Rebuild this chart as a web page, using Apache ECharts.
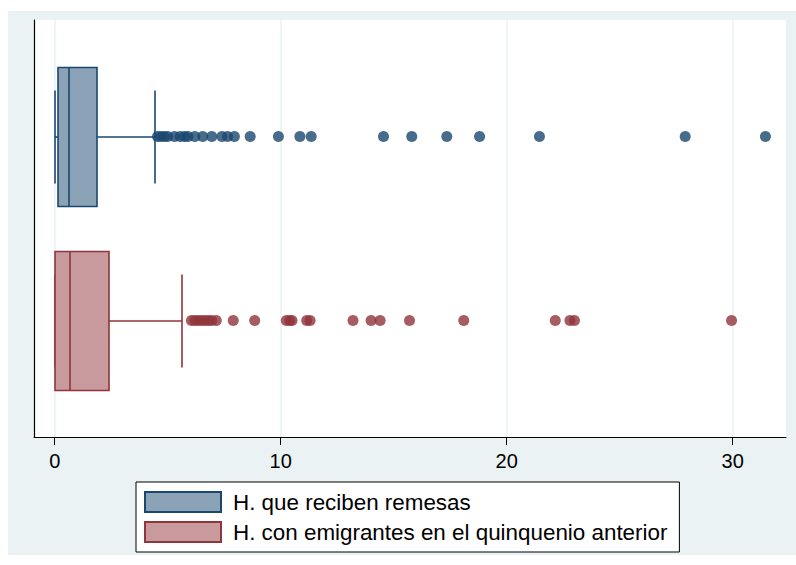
<!DOCTYPE html>
<html>
<head>
<meta charset="utf-8">
<script src="https://cdn.jsdelivr.net/npm/echarts@6/dist/echarts.min.js"></script>
<style>
  html, body { margin: 0; padding: 0; background: #ffffff; }
  #bg { position: absolute; left: 8px; top: 11px; width: 788px; height: 544px; background: #eaf2f3; }
  #chart { position: absolute; left: 0; top: 0; width: 796px; height: 565px; }
</style>
</head>
<body>
<div id="bg"></div>
<div id="chart"></div>
<script>
// ---- data ----
const categories = ['H. que reciben remesas', 'H. con emigrantes en el quinquenio anterior'];
// [lower whisker, Q1, median, Q3, upper whisker]
const remesasStats = [0, 0.13, 0.63, 1.885, 4.44];
const emigrantesStats = [0, 0, 0.69, 2.39, 5.62];
const remesasOutliers = [4.55, 4.7, 4.85, 5.0, 5.3, 5.55, 5.75, 5.9, 6.2, 6.55, 6.95, 7.4, 7.65, 7.95,
  8.65, 9.9, 10.85, 11.35, 14.55, 15.8, 17.35, 18.8, 21.45, 27.9, 31.45];
const emigrantesOutliers = [6.05, 6.2, 6.35, 6.5, 6.65, 6.8, 6.95, 7.15, 7.9, 8.85, 10.25, 10.4, 10.5,
  11.15, 11.3, 13.2, 14.0, 14.4, 15.7, 18.1, 22.15, 22.8, 23.0, 29.95];
const xTicks = [0, 10, 20, 30];

// ---- styles ----
const navy = '#1a476f', navyFill = '#8ca3b7';
const maroon = '#90353b', maroonFill = '#c89a9d';
const FONT = '"Liberation Sans", Arial, sans-serif';
const X_MIN = -0.916, X_MAX = 32.36;

function boxRender(stroke, fill) {
  return function (params, api) {
    const c = api.value(0);
    const px = v => Math.round(api.coord([v, c])[0]);
    const xLW = px(api.value(1)), xQ1 = px(api.value(2)), xMD = px(api.value(3));
    const xQ3 = px(api.value(4)), xUW = px(api.value(5));
    const y = Math.round(api.coord([api.value(2), c])[1]);
    const hb = 69.5, hc = 46.5;
    const ls = { stroke: stroke, lineWidth: 1.6, fill: null };
    return {
      type: 'group',
      children: [
        { type: 'line', shape: { x1: xLW, y1: y, x2: xQ1, y2: y }, style: ls },
        { type: 'line', shape: { x1: xQ3, y1: y, x2: xUW, y2: y }, style: ls },
        { type: 'line', shape: { x1: xLW, y1: y - hc, x2: xLW, y2: y + hc }, style: ls },
        { type: 'line', shape: { x1: xUW, y1: y - hc, x2: xUW, y2: y + hc }, style: ls },
        { type: 'rect', shape: { x: xQ1, y: y - hb, width: xQ3 - xQ1, height: 2 * hb },
          style: { fill: fill, stroke: stroke, lineWidth: 1.6 } },
        { type: 'line', shape: { x1: xMD, y1: y - hb, x2: xMD, y2: y + hb }, style: ls }
      ]
    };
  };
}

const chart = echarts.init(document.getElementById('chart'), null, { renderer: 'svg' });
chart.setOption({
  backgroundColor: 'transparent',
  animation: false,
  textStyle: { fontFamily: FONT },
  grid: [
    { left: 34, right: 10, top: 20, bottom: 128, show: true, backgroundColor: '#ffffff', borderWidth: 0, containLabel: false },
    { left: 34, right: 10, top: 44.5, bottom: 152.5, containLabel: false }
  ],
  xAxis: [
    {
      type: 'value', gridIndex: 0, min: X_MIN, max: X_MAX,
      axisLine: { show: true, onZero: false, lineStyle: { color: '#000', width: 1 } },
      axisTick: { show: true, length: 8, customValues: xTicks, lineStyle: { color: '#000', width: 1 } },
      axisLabel: { show: true, customValues: xTicks, fontSize: 20, color: '#000', margin: 14, fontFamily: FONT },
      splitLine: { show: false }
    },
    { type: 'value', gridIndex: 1, min: X_MIN, max: X_MAX, show: false, splitLine: { show: false } }
  ],
  yAxis: [
    {
      type: 'value', gridIndex: 0, min: 0, max: 1, position: 'left',
      axisLine: { show: true, onZero: false, lineStyle: { color: '#000', width: 1.2 } },
      axisTick: { show: false }, axisLabel: { show: false }, splitLine: { show: false }
    },
    { type: 'category', gridIndex: 1, data: categories, inverse: true, boundaryGap: true, show: false }
  ],
  legend: {
    orient: 'vertical', left: 136, top: 482,
    padding: [9, 12, 9, 8], itemGap: 8,
    itemWidth: 76, itemHeight: 20,
    backgroundColor: '#ffffff', borderColor: '#000000', borderWidth: 1,
    selectedMode: false,
    textStyle: { fontSize: 22.4, color: '#000', fontFamily: FONT, padding: [0, 0, 0, 7] },
    data: [
      { name: categories[0], icon: 'rect', itemStyle: { color: navyFill, borderColor: navy, borderWidth: 2 } },
      { name: categories[1], icon: 'rect', itemStyle: { color: maroonFill, borderColor: maroon, borderWidth: 2 } }
    ]
  },
  series: [
    {
      type: 'line', xAxisIndex: 0, yAxisIndex: 0, data: [], z: 1, silent: true,
      markLine: {
        z: 1, silent: true, symbol: ['none', 'none'], label: { show: false },
        lineStyle: { color: '#eaf2f3', width: 1.5, type: 'solid' },
        data: xTicks.map(v => ({ xAxis: v }))
      }
    },
    {
      name: categories[0], type: 'custom', xAxisIndex: 1, yAxisIndex: 1, z: 3,
      itemStyle: { color: navyFill, borderColor: navy },
      encode: { x: [1, 2, 3, 4, 5], y: 0 },
      renderItem: boxRender(navy, navyFill),
      data: [[0].concat(remesasStats)]
    },
    {
      name: categories[0], type: 'scatter', xAxisIndex: 1, yAxisIndex: 1, z: 4,
      symbol: 'circle', symbolSize: 11, itemStyle: { color: navy },
      data: remesasOutliers.map(v => [v, 0])
    },
    {
      name: categories[1], type: 'custom', xAxisIndex: 1, yAxisIndex: 1, z: 3,
      itemStyle: { color: maroonFill, borderColor: maroon },
      encode: { x: [1, 2, 3, 4, 5], y: 0 },
      renderItem: boxRender(maroon, maroonFill),
      data: [[1].concat(emigrantesStats)]
    },
    {
      name: categories[1], type: 'scatter', xAxisIndex: 1, yAxisIndex: 1, z: 4,
      symbol: 'circle', symbolSize: 11, itemStyle: { color: maroon },
      data: emigrantesOutliers.map(v => [v, 1])
    }
  ]
});
</script>
</body>
</html>
